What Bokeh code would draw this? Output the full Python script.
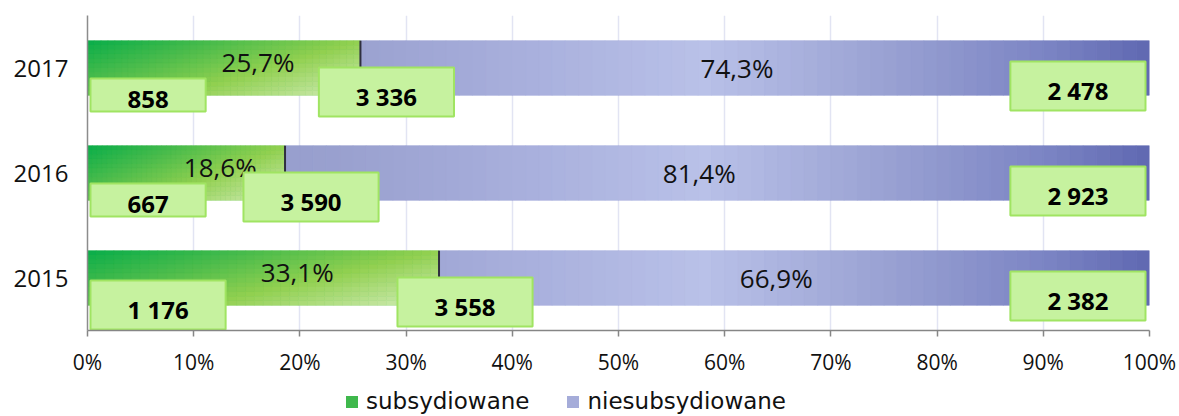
from bokeh.plotting import figure
from bokeh.layouts import column
from bokeh.models import (FactorRange, Range1d, NumeralTickFormatter, FixedTicker,
                          Legend, LegendItem, ColumnDataSource)
from bokeh.transform import dodge
from bokeh.core.properties import value
from bokeh.embed import file_html
from bokeh.resources import INLINE

# ---------------- data ----------------
years = ["2015", "2016", "2017"]
subsidized = [1176, 667, 858]          # liczba subsydiowanych
total = [3558, 3590, 3336]             # ogółem
unsubsidized = [2382, 2923, 2478]      # niesubsydiowane
share_sub = [33.1, 18.6, 25.7]         # % subsydiowane
share_unsub = [66.9, 81.4, 74.3]       # % niesubsydiowane
series_names = ["subsydiowane", "niesubsydiowane"]
x_tick_values = [0, 10, 20, 30, 40, 50, 60, 70, 80, 90, 100]

# ---------------- helpers (styling only) ----------------
def hex2rgb(h):
    h = h.lstrip("#")
    return tuple(int(h[i:i + 2], 16) for i in (0, 2, 4))

def ramp(stops, t):
    t = min(max(t, 0.0), 1.0)
    for (t0, c0), (t1, c1) in zip(stops[:-1], stops[1:]):
        if t <= t1:
            f = 0 if t1 == t0 else (t - t0) / (t1 - t0)
            a, b = hex2rgb(c0), hex2rgb(c1)
            return "#%02x%02x%02x" % tuple(round(a[i] + (b[i] - a[i]) * f) for i in range(3))
    return stops[-1][1]

GREEN_STOPS = [(0.0, "#08ad4a"), (0.3, "#4cbc4c"), (0.6, "#92d050"), (0.8, "#b2de84"), (1.0, "#d3edb9")]
PURPLE_STOPS = [(0.0, "#9198c9"), (0.25, "#9aa1cf"), (0.42, "#a9b0dd"), (0.58, "#b9c1e8"),
                (0.75, "#9aa2d3"), (0.9, "#7c85c4"), (1.0, "#5f68b1")]
GREEN_SOLID, PURPLE_SOLID = "#3fb84c", "#a5acd9"

BAR_H = 0.52
NUM_FONT_NAME = "Open Sans"
NUM_FONT = value(NUM_FONT_NAME)
BOX_FONT = value("Open Sans")
LEG_FONT_NAME = "DejaVu Sans"

frac_sub = [s / 100 for s in share_sub]

p = figure(y_range=FactorRange(factors=years), x_range=Range1d(0, 1),
           frame_width=1062, frame_height=315,
           min_border_left=87, min_border_right=28, min_border_top=15, min_border_bottom=0,
           output_backend="svg", toolbar_location=None)
p.outline_line_color = None
p.background_fill_color = "white"

# base bars (solid)
src = ColumnDataSource(dict(y=years, sub=frac_sub, one=[1.0] * len(years)))
p.hbar(y="y", left=0, right="sub", height=BAR_H, source=src, fill_color=GREEN_SOLID, line_color=None)
p.hbar(y="y", left="sub", right="one", height=BAR_H, source=src, fill_color=PURPLE_SOLID, line_color=None)

# gradient overlay — subsidized (diagonal gradient)
NX, NY = 40, 12
for j in range(NY):
    ys, ls, rs, cs = [], [], [], []
    v = (j + 0.5) / NY
    for yi, fs in zip(years, frac_sub):
        for k in range(NX):
            u = (k + 0.5) / NX
            ys.append(yi)
            ls.append(fs * k / NX)
            rs.append(fs * (k + 1) / NX)
            cs.append(ramp(GREEN_STOPS, 0.6 * u + 0.4 * v))
    off = BAR_H / 2 - (j + 0.5) * BAR_H / NY
    s = ColumnDataSource(dict(y=ys, l=ls, r=rs, c=cs))
    p.hbar(y=dodge("y", off, range=p.y_range), left="l", right="r", height=BAR_H / NY,
           fill_color="c", line_color="c", line_width=0.5, source=s)

# gradient overlay — unsubsidized (horizontal gradient)
NP = 80
ys, ls, rs, cs = [], [], [], []
for yi, fs in zip(years, frac_sub):
    for k in range(NP):
        a, b = k / NP, (k + 1) / NP
        if b <= fs:
            continue
        ys.append(yi)
        ls.append(max(a, fs))
        rs.append(b)
        cs.append(ramp(PURPLE_STOPS, (a + b) / 2))
p.hbar(y="y", left="l", right="r", height=BAR_H, fill_color="c", line_color="c",
       line_width=0.5, source=ColumnDataSource(dict(y=ys, l=ls, r=rs, c=cs)))

# dark divider at the boundary
p.rect(x="sub", y="y", width=2, width_units="screen", height=BAR_H, source=src,
       fill_color="#2f2f3f", line_color=None)

# percentage labels
lab = ColumnDataSource(dict(
    y=years,
    xs=[f / 2 for f in frac_sub],
    xu=[(f + 1) / 2 for f in frac_sub],
    ts=[("%.1f%%" % v).replace(".", ",") for v in share_sub],
    tu=[("%.1f%%" % v).replace(".", ",") for v in share_unsub],
))
p.text(x="xs", y="y", text="ts", source=lab, x_offset=34, y_offset=-6, text_align="center",
       text_baseline="middle", text_font=NUM_FONT, text_font_size="26px", text_color="#111111")
p.text(x="xu", y="y", text="tu", source=lab, x_offset=-18, text_align="center",
       text_baseline="middle", text_font=NUM_FONT, text_font_size="26px", text_color="#111111")

# value boxes
def fmt(n):
    return "{:,}".format(n).replace(",", " ")

box = ColumnDataSource(dict(
    y=years, zero=[0.0] * len(years), one=[1.0] * len(years), sub=frac_sub,
    t1=[fmt(v) for v in subsidized], t2=[fmt(v) for v in total], t3=[fmt(v) for v in unsubsidized],
))
box_style = dict(text_baseline="middle", text_font=BOX_FONT, text_font_style="bold",
                 text_font_size="24px", text_color="#000000",
                 background_fill_color="#c6f29f", border_line_color="#a0e462",
                 border_line_width=2, padding=(37, 37, 12, 4), source=box)
p.text(x="zero", y="y", text="t1", text_align="left", x_offset=3, y_offset=27, **box_style)
p.text(x="sub", y="y", text="t2", text_align="center", x_offset=26, y_offset=24, **box_style)
p.text(x="one", y="y", text="t3", text_align="right", x_offset=-4, y_offset=18, **box_style)

# axes
p.xaxis.ticker = FixedTicker(ticks=[v / 100 for v in x_tick_values])
p.xaxis.formatter = NumeralTickFormatter(format="0%")
p.xaxis.axis_line_color = "#868686"
p.xaxis.axis_line_width = 1.5
p.xaxis.major_tick_line_color = "#868686"
p.xaxis.major_tick_line_width = 1.5
p.xaxis.major_tick_out = 6
p.xaxis.major_tick_in = 0
p.xaxis.minor_tick_line_color = None
p.xaxis.major_label_text_font = NUM_FONT_NAME
p.xaxis.major_label_text_font_size = "21px"
p.xaxis.major_label_text_color = "#111111"
p.xaxis.major_label_standoff = 11

p.yaxis.axis_line_color = "#8c8c8c"
p.yaxis.axis_line_width = 1.5
p.yaxis.major_tick_line_color = None
p.yaxis.minor_tick_line_color = None
p.yaxis.major_label_text_font = NUM_FONT_NAME
p.yaxis.major_label_text_font_size = "24px"
p.yaxis.major_label_text_color = "#111111"
p.yaxis.major_label_standoff = 13

p.xgrid.ticker = FixedTicker(ticks=[v / 100 for v in x_tick_values])
p.xgrid.grid_line_color = "#e2e4f3"
p.xgrid.grid_line_width = 1.5
p.ygrid.grid_line_color = None

# legend strip below the chart
pl = figure(x_range=Range1d(0, 1), y_range=Range1d(0, 1),
            frame_width=1062, frame_height=36,
            min_border_left=87, min_border_right=28, min_border_top=0, min_border_bottom=0,
            output_backend="svg", toolbar_location=None)
pl.axis.visible = False
pl.grid.visible = False
pl.outline_line_color = None
key = ColumnDataSource(dict(y=[0.5], l=[0.0], r=[0.0]))
lg_sub = pl.hbar(y="y", left="l", right="r", height=0, source=key,
                 fill_color=GREEN_SOLID, line_color=None)
lg_uns = pl.hbar(y="y", left="l", right="r", height=0, source=key,
                 fill_color=PURPLE_SOLID, line_color=None)
legend = Legend(items=[LegendItem(label=series_names[0], renderers=[lg_sub]),
                       LegendItem(label=series_names[1], renderers=[lg_uns])],
                orientation="horizontal", location=(257, 0),
                label_text_font=LEG_FONT_NAME, label_text_font_size="23px",
                label_text_color="#111111", glyph_width=15, glyph_height=15,
                label_standoff=7, spacing=36, padding=0, margin=0,
                border_line_color=None, background_fill_alpha=0)
pl.add_layout(legend)

layout = column(p, pl, spacing=0)
open("out.html", "w").write(file_html(layout, INLINE))
